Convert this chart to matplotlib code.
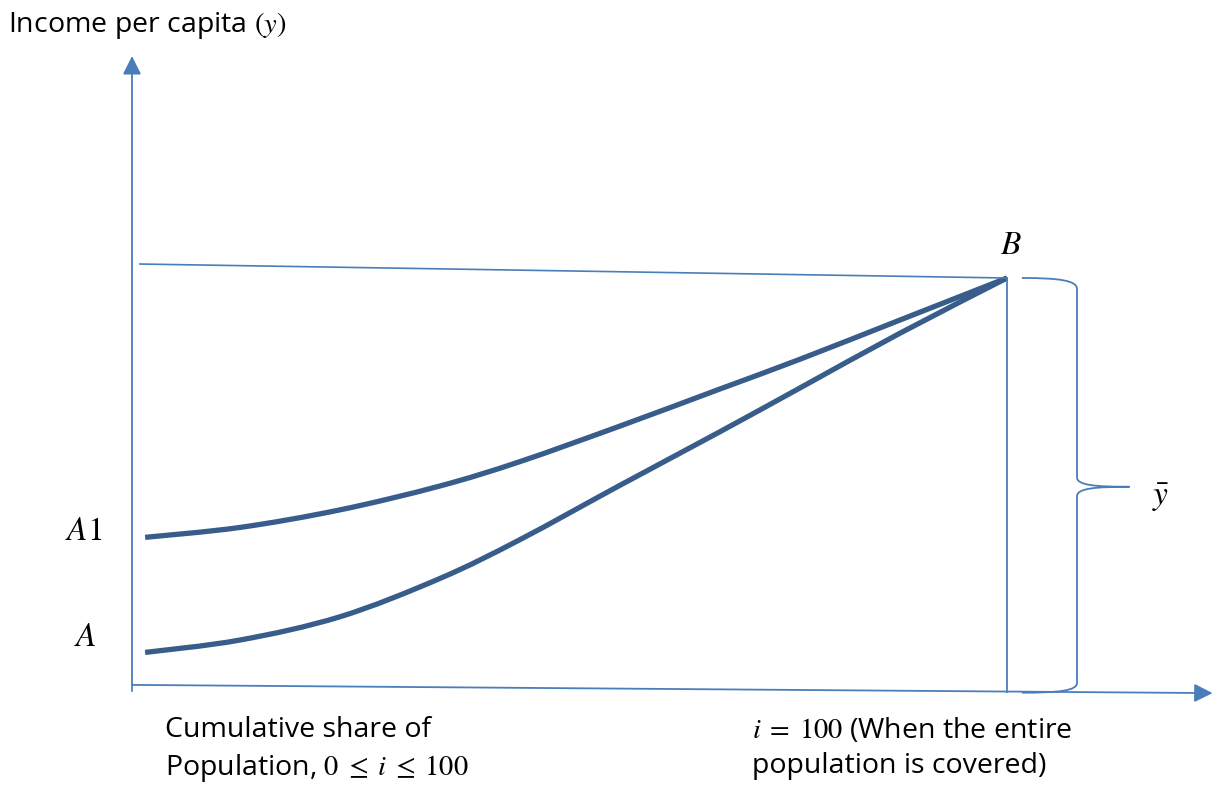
import matplotlib.pyplot as plt
from matplotlib.path import Path
from matplotlib.patches import PathPatch

plt.rcParams['font.family'] = ['Open Sans', 'DejaVu Sans']
plt.rcParams['mathtext.fontset'] = 'stix'

# curve values (share of population, income as % of mean)
share = [1.5, 12.3, 23.8, 35.2, 44.3, 55.8, 67.2, 76.3, 87.8, 100]
income_a1 = [36.9, 39.3, 43.6, 49.4, 55.3, 64.0, 73.0, 80.2, 89.8, 100]
income_a = [8.9, 11.9, 17.6, 26.9, 36.3, 49.6, 62.6, 73.2, 86.6, 100]

y_mean = 100
i_full = 100

thin = '#4a7ebb'
thick = '#385d8a'


def smooth_path(xs, ys):
    # catmull-rom through the points, drawn as bezier segments
    pts = list(zip(xs, ys))
    verts = [pts[0]]
    codes = [Path.MOVETO]
    for k in range(len(pts) - 1):
        p0 = pts[k - 1] if k > 0 else pts[k]
        p1 = pts[k]
        p2 = pts[k + 1]
        p3 = pts[k + 2] if k + 2 < len(pts) else pts[k + 1]
        c1 = (p1[0] + (p2[0] - p0[0]) / 6, p1[1] + (p2[1] - p0[1]) / 6)
        c2 = (p2[0] - (p3[0] - p1[0]) / 6, p2[1] - (p3[1] - p1[1]) / 6)
        verts += [c1, c2, p2]
        codes += [Path.CURVE4] * 3
    return Path(verts, codes)


fig = plt.figure(figsize=(12.15, 7.91), dpi=100)
ax = fig.add_axes([0, 0, 1, 1])
ax.set_xlim(-132 / 8.75, (1215 - 132) / 8.75)
ax.set_ylim((689 - 791) / 4.11, 689 / 4.11)
ax.axis('off')

# axes with arrows
ax.annotate('', xy=(0, 154), xytext=(0, -0.5),
            arrowprops=dict(arrowstyle='-|>', mutation_scale=28, lw=1.3, color=thin, shrinkA=0, shrinkB=0))
ax.annotate('', xy=(123.5, -1.0), xytext=(0, 1.0),
            arrowprops=dict(arrowstyle='-|>', mutation_scale=28, lw=1.3, color=thin, shrinkA=0, shrinkB=0))

# top line and vertical at B
ax.plot([0.9, i_full], [103.4, y_mean], color=thin, lw=1.2)
ax.plot([i_full, i_full], [y_mean, -0.8], color=thin, lw=1.3)

# curves
for inc in (income_a1, income_a):
    ax.add_patch(PathPatch(smooth_path(share, inc), fill=False, edgecolor=thick,
                           lw=3.8, capstyle='butt'))

# brace
verts = [(101.7, y_mean), (106, y_mean), (108, 99.4), (108, 97.3),
         (108, 51.5), (108, 49.6), (110, 49.2), (114, 49.2),
         (110, 49.2), (108, 48.8), (108, 46.9),
         (108, 1.5), (108, -0.4), (106, -0.9), (101.7, -0.9)]
codes = [Path.MOVETO, Path.CURVE4, Path.CURVE4, Path.CURVE4,
         Path.LINETO, Path.CURVE4, Path.CURVE4, Path.CURVE4,
         Path.CURVE4, Path.CURVE4, Path.CURVE4,
         Path.LINETO, Path.CURVE4, Path.CURVE4, Path.CURVE4]
ax.add_patch(PathPatch(Path(verts, codes), fill=False, edgecolor=thin, lw=1.3))

fs = 20.5
ms = 24
ax.text(-14.2, 159.9, 'Income per capita $(y)$', fontsize=fs, ha='left', va='baseline')
ax.text(100.5, 107.8, '$B$', fontsize=ms, ha='center', va='center')
ax.text(-3.4, 38.2, '$A1$', fontsize=ms, ha='right', va='center')
ax.text(-4.0, 12.65, '$A$', fontsize=ms, ha='right', va='center')
ax.text(117.6, 46.7, r'$\bar{y}$', fontsize=ms, ha='center', va='center')
ax.text(3.8, -6.6, 'Cumulative share of\nPopulation, $0 \\;\\leq\\; i \\;\\leq\\; 100$',
        fontsize=fs, ha='left', va='top', linespacing=1.35)
ax.text(70.9, -6.6, '$i \\;=\\; 100$ (When the entire\npopulation is covered)',
        fontsize=fs, ha='left', va='top', linespacing=1.35)

fig.savefig('out.png', dpi=100)
